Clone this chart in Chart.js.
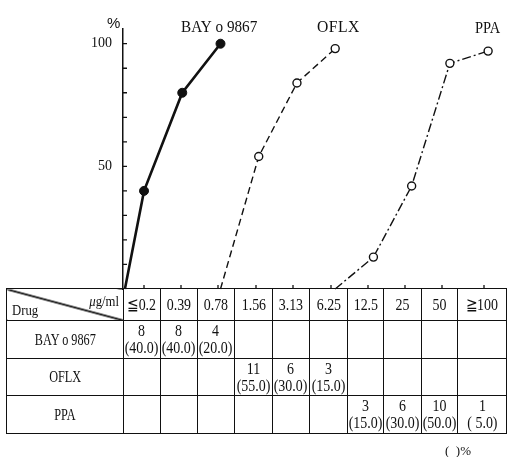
<!DOCTYPE html>
<html>
<head>
<meta charset="utf-8">
<script src="https://cdn.jsdelivr.net/npm/chart.js@4.4.1/dist/chart.umd.min.js"></script>
<style>
  html, body { margin: 0; padding: 0; background: #fff; }
  #wrap { position: relative; width: 507px; height: 457px; overflow: hidden; }
  #mic { position: absolute; left: 0; top: 0; }
  #tbl {
    position: absolute; left: 6px; top: 288px;
    border-collapse: collapse; table-layout: fixed; width: 500px;
    font-family: "Liberation Serif", "DejaVu Serif", serif; color: #111;
  }
  #tbl td { border: 1.6px solid #111; padding: 0; vertical-align: middle; }
  #tbl tr.head td { height: 31px; }
  #tbl tr.row td { height: 36.5px; }
  .c { display: flex; justify-content: center; width: 100%; }
  .c span { display: inline-block; white-space: nowrap; text-align: center; font-size: 17px; line-height: 17px; transform: scaleX(0.82); }
  .c span.nm { font-size: 17px; transform: scaleX(0.72); }
  #tbl td.corner {
    position: relative;
    background: linear-gradient(to top right, transparent calc(50% - 1.3px), #111 calc(50% - 0.5px), #111 calc(50% + 0.5px), transparent calc(50% + 1.3px));
  }
  .unit { position: absolute; right: 4px; top: 4px; font-size: 15px; transform: scaleX(0.85); transform-origin: right center; white-space: nowrap; }
  .drug { position: absolute; left: 5px; bottom: 1px; font-size: 15px; transform: scaleX(0.85); transform-origin: left center; }
  #note { position: absolute; left: 445px; top: 443px; font: 13px "Liberation Serif", serif; color: #111; }
</style>
</head>
<body>
<div id="wrap">
  <canvas id="mic" width="507" height="457"></canvas>
  <table id="tbl"></table>
  <div id="note">(&nbsp;&nbsp;)%</div>
</div>
<script>
// MIC columns (ug/ml)
const doseLabels = ['≦0.2', '0.39', '0.78', '1.56', '3.13', '6.25', '12.5', '25', '50', '≧100'];
const drugNames = ['BAY o 9867', 'OFLX', 'PPA'];

// cumulative % curves (x = column index)
const bayX = [-0.5, 0, 1, 2];
const bayPct = [0, 40, 80, 100];
const oflxX = [2, 3, 4, 5];
const oflxPct = [0, 54, 84, 98];
const ppaX = [5, 6, 7, 8, 9];
const ppaPct = [0, 13, 42, 92, 97];

// table: number of strains and (%) per column
const bayN = [8, 8, 4, null, null, null, null, null, null, null];
const bayP = [40.0, 40.0, 20.0, null, null, null, null, null, null, null];
const oflxN = [null, null, null, 11, 6, 3, null, null, null, null];
const oflxP = [null, null, null, 55.0, 30.0, 15.0, null, null, null, null];
const ppaN = [null, null, null, null, null, null, 3, 6, 10, 1];
const ppaP = [null, null, null, null, null, null, 15.0, 30.0, 50.0, 5.0];

const yTicks = [10, 20, 30, 40, 50, 60, 70, 80, 90, 100];

// ---- table ----
const colW = [117, 37, 37, 37, 38, 37, 38, 36, 38, 36, 49];
const tbl = document.getElementById('tbl');
let html = '<colgroup>' + colW.map(w => '<col style="width:' + w + 'px">').join('') + '</colgroup>';
html += '<tr class="head"><td class="corner"><span class="unit"><i>μ</i>g/ml</span><span class="drug">Drug</span></td>';
doseLabels.forEach(d => { html += '<td class="dose"><div class="c"><span>' + d + '</span></div></td>'; });
html += '</tr>';
function fmtP(p) {
  const s = p.toFixed(1);
  return '(' + (s.length < 4 ? '&nbsp;' + s : s) + ')';
}
[[bayN, bayP], [oflxN, oflxP], [ppaN, ppaP]].forEach((r, i) => {
  html += '<tr class="row"><td><div class="c"><span class="nm">' + drugNames[i] + '</span></div></td>';
  r[0].forEach((n, j) => {
    html += '<td>' + (n == null ? '' : '<div class="c"><span>' + n + '<br>' + fmtP(r[1][j]) + '</span></div>') + '</td>';
  });
  html += '</tr>';
});
tbl.innerHTML = html;

// ---- chart ----
function pts(xs, ys) { return xs.map((x, i) => ({ x: x, y: ys[i] })); }

const extras = {
  id: 'extras',
  afterDraw(chart) {
    const ctx = chart.ctx;
    const ys = chart.scales.y;
    const y0 = ys.getPixelForValue(0), x0 = chart.chartArea.left;
    const wrapBox = document.getElementById('wrap').getBoundingClientRect();
    ctx.save();
    ctx.strokeStyle = '#111';
    ctx.lineWidth = 1.3;
    ctx.beginPath();
    yTicks.forEach(v => {
      const py = ys.getPixelForValue(v);
      ctx.moveTo(x0, py); ctx.lineTo(x0 + 4, py);
    });
    // small upward ticks over each MIC column
    document.querySelectorAll('#tbl td.dose').forEach(td => {
      const b = td.getBoundingClientRect();
      const px = Math.round(b.left + b.width / 2 - wrapBox.left) + 2;
      ctx.moveTo(px, y0); ctx.lineTo(px, y0 - 4);
    });
    ctx.stroke();
    ctx.fillStyle = '#111';
    ctx.textBaseline = 'alphabetic';
    ctx.font = '15px "Liberation Sans", sans-serif';
    ctx.fillText('%', 107, 28);
    ctx.font = '16px "Liberation Serif", serif';
    const lab = (t, x, y, sx, sp) => {
      ctx.save();
      ctx.letterSpacing = sp + 'px';
      ctx.translate(x, y); ctx.scale(sx, 1);
      ctx.fillText(t, 0, 0);
      ctx.restore();
    };
    lab(drugNames[0], 181, 32, 0.95, 0);
    lab(drugNames[1], 317, 32, 0.98, 0.5);
    lab(drugNames[2], 475, 33, 0.9, 0);
    ctx.restore();
  }
};

new Chart(document.getElementById('mic').getContext('2d'), {
  type: 'line',
  data: {
    datasets: [{
      label: drugNames[0],
      data: pts(bayX, bayPct),
      borderColor: '#111', borderWidth: 2.6,
      pointRadius: bayX.map(x => x < 0 ? 0 : 4.5),
      pointBackgroundColor: '#111', pointBorderColor: '#111', pointBorderWidth: 1
    }, {
      label: drugNames[1],
      data: pts(oflxX, oflxPct),
      borderColor: '#111', borderWidth: 1.4, borderDash: [7, 4],
      pointRadius: oflxX.map((x, i) => i === 0 ? 0 : 4),
      pointBackgroundColor: '#fff', pointBorderColor: '#111', pointBorderWidth: 1.4
    }, {
      label: drugNames[2],
      data: pts(ppaX, ppaPct),
      borderColor: '#111', borderWidth: 1.4, borderDash: [9, 3, 2, 3],
      pointRadius: ppaX.map((x, i) => i === 0 ? 0 : 4),
      pointBackgroundColor: '#fff', pointBorderColor: '#111', pointBorderWidth: 1.4
    }]
  },
  options: {
    responsive: false,
    animation: false,
    clip: false,
    layout: { padding: { top: 29, bottom: 168, left: 0, right: 2 } },
    plugins: { legend: { display: false }, tooltip: { enabled: false } },
    elements: { line: { tension: 0 } },
    scales: {
      x: { type: 'linear', min: -0.55, max: 9.35, display: false },
      y: {
        min: 0, max: 106,
        afterFit(scale) { scale.width = 123; },
        afterBuildTicks(scale) { scale.ticks = [0, 50, 100].map(v => ({ value: v })); },
        grid: { display: false, drawTicks: false },
        border: { display: true, color: '#111', width: 1.5 },
        ticks: {
          padding: 11, color: '#111',
          font: { family: '"Liberation Serif", serif', size: 14 },
          callback: v => (v === 50 || v === 100) ? String(v) : ''
        }
      }
    }
  },
  plugins: [extras]
});
</script>
</body>
</html>
